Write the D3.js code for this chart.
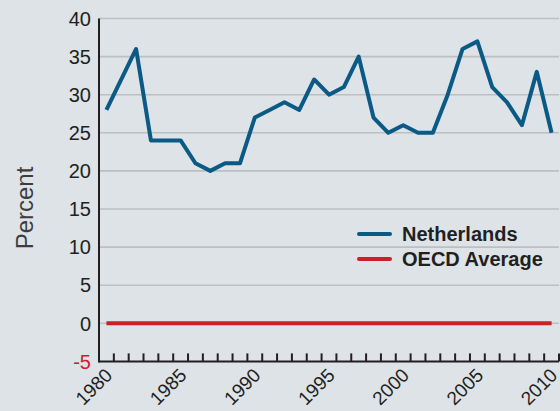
<!DOCTYPE html>
<html>
<head>
<meta charset="utf-8">
<script src="https://cdn.jsdelivr.net/npm/d3@7"></script>
<style>
  body { margin: 0; background: #dde3e7; }
  svg { display: block; font-family: 'Liberation Sans', Arial, sans-serif; }
</style>
</head>
<body>
<script>
// data
const years = d3.range(1980, 2011);
const netherlands = [28, 32, 36, 24, 24, 24, 21, 20, 21, 21, 27, 28, 29, 28, 32, 30,
  31, 35, 27, 25, 26, 25, 25, 30, 36, 37, 31, 29, 26, 33, 25];
const oecdAverage = years.map(() => 0);
const yTicks = [-5, 0, 5, 10, 15, 20, 25, 30, 35, 40];
const yearLabels = [1980, 1985, 1990, 1995, 2000, 2005, 2010];
const seriesNames = ['Netherlands', 'OECD Average'];
const colors = ['#0b5a86', '#cc2029'];

const drawChart = () => {
  const w = 560;
  const h = 411;
  const margin = { top: 18.5, right: 1, bottom: 49.6, left: 99 };

  const svg = d3.select('body')
    .append('svg')
    .attr('width', w)
    .attr('height', h);

  //scales
  const xBand = d3.scaleBand()
    .domain(years)
    .range([margin.left, w - margin.right]);
  const xScale = d3.scalePoint()
    .domain(years)
    .range([margin.left, w - margin.right])
    .padding(0.5);
  const yScale = d3.scaleLinear()
    .domain([-5, 40])
    .range([h - margin.bottom, margin.top]);

  //gridlines
  svg.append('g')
    .selectAll('line')
    .data(yTicks.filter((d) => d > -5))
    .enter()
    .append('line')
    .attr('x1', margin.left)
    .attr('x2', w - margin.right)
    .attr('y1', (d) => yScale(d))
    .attr('y2', (d) => yScale(d))
    .style('stroke', '#bdbfc1')
    .style('stroke-width', 1.6);

  //y tick labels
  svg.append('g')
    .selectAll('text')
    .data(yTicks)
    .enter()
    .append('text')
    .attr('x', margin.left - 8)
    .attr('y', (d) => yScale(d))
    .attr('dy', '0.36em')
    .attr('text-anchor', 'end')
    .style('font-size', '20px')
    .style('fill', (d) => d < 0 ? '#d0202e' : '#231f20')
    .text((d) => d);

  //axes lines
  const axisY = h - margin.bottom;
  svg.append('line')
    .attr('x1', margin.left).attr('x2', margin.left)
    .attr('y1', margin.top).attr('y2', axisY + 1)
    .style('stroke', '#231f20').style('stroke-width', 2);
  svg.append('line')
    .attr('x1', margin.left).attr('x2', w - margin.right)
    .attr('y1', axisY).attr('y2', axisY)
    .style('stroke', '#231f20').style('stroke-width', 2);

  //x ticks at band edges, pointing up
  svg.append('g')
    .selectAll('line')
    .data(years)
    .enter()
    .append('line')
    .attr('x1', (d) => xBand(d) + xBand.bandwidth())
    .attr('x2', (d) => xBand(d) + xBand.bandwidth())
    .attr('y1', axisY)
    .attr('y2', axisY - 8)
    .style('stroke', '#231f20')
    .style('stroke-width', 2);

  //x labels, rotated
  svg.append('g')
    .selectAll('text')
    .data(yearLabels)
    .enter()
    .append('text')
    .attr('transform', (d) => `translate(${xScale(d) + 7}, ${axisY + 15}) rotate(-45)`)
    .attr('text-anchor', 'end')
    .style('font-size', '19px')
    .style('fill', '#231f20')
    .text((d) => d);

  //y title
  svg.append('text')
    .attr('transform', `translate(33, 208) rotate(-90)`)
    .attr('text-anchor', 'middle')
    .style('font-size', '24px')
    .style('fill', '#3d3d3f')
    .text('Percent');

  //lines
  const line = d3.line()
    .x((d, i) => xScale(years[i]))
    .y((d) => yScale(d));

  [netherlands, oecdAverage].forEach((series, i) => {
    svg.append('path')
      .datum(series)
      .attr('d', line)
      .style('fill', 'none')
      .style('stroke', colors[i])
      .style('stroke-width', 4)
      .style('stroke-linejoin', 'round');
  });

  //legend
  const legend = svg.append('g')
    .attr('transform', 'translate(359, 234)');
  seriesNames.forEach((name, i) => {
    const row = legend.append('g').attr('transform', `translate(0, ${i * 25})`);
    row.append('line')
      .attr('x1', 0).attr('x2', 31)
      .style('stroke', colors[i])
      .style('stroke-width', 4)
      .style('stroke-linecap', 'round');
    row.append('text')
      .attr('x', 43)
      .attr('dy', '0.36em')
      .style('font-size', '20px')
      .style('font-weight', 'bold')
      .style('fill', '#231f20')
      .text(name);
  });
};

drawChart();
</script>
</body>
</html>
